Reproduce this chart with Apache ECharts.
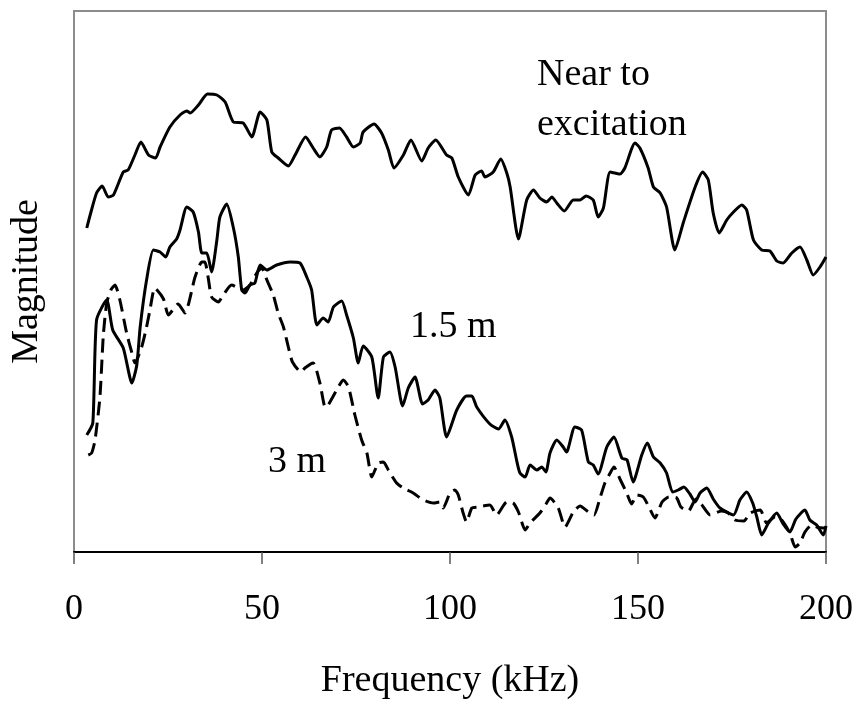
<!DOCTYPE html>
<html>
<head>
<meta charset="utf-8">
<script src="https://cdn.jsdelivr.net/npm/echarts@6/dist/echarts.min.js"></script>
<style>html,body{margin:0;padding:0;background:#fff}#c{width:859px;height:709px}</style>
</head>
<body>
<div id="c"></div>
<script>
// X ticks
var xTicks = [0, 50, 100, 150, 200];

// "Near to excitation" (solid)
var nearFreq = [3.4,4.3,6.0,7.5,9.1,10.5,13.1,14.4,16.2,17.8,19.8,21.7,22.9,25.5,28.2,30.0,30.9,33.1,35.5,38.0,40.2,42.4,45.0,47.3,49.5,51.3,52.6,54.3,57.0,58.8,61.6,63.6,65.4,67.2,68.5,70.6,72.5,74.3,76.1,76.9,79.8,81.8,83.6,85.1,87.6,89.6,92.5,94.2,96.2,99.1,100.5,102.2,104.9,106.7,108.4,109.3,111.5,113.5,115.1,116.0,118.2,120.4,122.2,123.9,125.7,127.1,128.4,130.4,132.8,134.6,136.2,138.1,139.4,140.8,142.6,145.2,146.5,149.2,150.5,152.7,154.1,155.9,157.6,159.8,162.1,165.2,167.2,168.7,170.0,171.6,173.6,175.4,177.6,178.9,180.7,182.9,185.1,186.9,188.6,190.9,193.1,194.9,196.6,198.4,200];
var nearMag  = [324,337,359,366,355,357,380,382,397,410,397,394,405,425,437,441,439,447,458,457,450,430,429,415,440,432,400,394,386,397,415,404,395,405,422,424,415,405,409,420,428,419,402,384,397,412,391,404,412,397,394,375,357,377,381,375,380,393,379,365,313,352,362,354,350,355,349,341,352,352,356,352,335,344,380,378,384,409,404,384,365,359,345,302,330,365,380,372,339,319,332,340,347,342,312,302,301,291,289,299,305,292,277,285,295];

// "1.5 m" (solid)
var m15Freq = [3.4,5.0,6.0,8.7,10.3,13.1,15.4,16.7,17.6,19.3,21.1,22.9,24.4,25.5,27.3,28.2,30.0,31.7,33.1,34.0,35.3,36.6,38.0,38.8,40.6,42.4,43.7,44.6,45.5,46.8,48.1,49.5,51.3,53.9,57.5,60.1,61.9,63.2,64.6,66.3,67.6,69.0,71.2,72.5,74.3,75.6,76.9,79.2,80.9,82.3,84.0,85.4,87.4,88.9,90.7,92.7,94.2,96.0,97.3,99.1,101.8,104.4,105.8,107.1,110.6,112.9,114.6,116.4,117.7,118.6,120.0,121.3,123.1,124.4,125.5,126.6,128.4,130.1,131.0,133.2,135.0,136.8,138.1,139.4,141.7,143.6,145.7,147.1,148.7,151.0,152.5,154.1,155.9,157.6,159.2,160.7,162.2,163.8,165.2,166.5,168.3,170.0,171.8,175.4,177.1,178.9,180.5,181.6,182.9,184.7,186.9,188.6,190.4,192.0,194.4,195.7,197.5,199.3,200];
var m15Mag  = [117,129,232,252,222,204,169,187,225,272,302,300,295,305,313,322,345,340,320,299,299,280,312,335,348,324,295,262,259,267,269,287,282,287,290,289,275,262,227,234,230,245,251,237,214,189,206,195,154,195,200,185,146,164,175,148,152,162,154,115,142,156,156,145,128,123,132,115,92,79,75,87,82,85,80,99,112,105,100,125,122,90,87,78,105,115,94,92,70,97,109,95,89,79,60,62,65,58,50,59,64,53,44,37,52,60,49,35,17,29,39,28,20,33,42,32,27,17,26];

// "3 m" (dashed)
var m3Freq = [3.8,4.7,5.6,6.9,7.8,8.7,9.8,10.9,12.2,14.0,15.4,16.2,18.0,19.3,20.2,21.5,23.8,25.1,27.7,29.5,32.2,34.0,34.8,35.7,36.6,38.4,39.7,41.9,45.0,46.8,48.6,49.9,51.3,53.0,54.3,55.7,57.0,58.1,60.4,61.4,63.6,65.4,66.8,67.6,70.3,71.6,73.0,74.7,76.5,77.9,79.2,80.9,82.3,83.6,85.8,87.6,90.2,92.9,95.6,97.3,98.2,100.0,101.3,102.2,103.5,104.4,105.8,107.5,110.6,112.4,115.1,116.8,118.2,120.0,121.3,123.9,125.7,126.6,128.8,130.6,132.8,134.6,136.8,138.3,139.9,141.2,142.6,143.6,145.2,147.0,148.3,149.7,151.4,152.9,154.5,156.4,158.2,160.3,161.4,163.4,165.4,167.0,169.2,172.2,174.0,175.8,178.2,179.8,182.5,184.2,186.4,188.0,190.4,191.8,193.1,194.4,196.2,197.5,199.3,200];
var m3Mag  = [97,99,112,155,217,249,262,267,252,219,199,189,205,225,242,264,253,237,248,239,275,290,290,274,255,250,257,267,262,267,279,284,272,257,239,225,205,190,180,184,189,169,145,147,165,172,165,137,112,99,75,89,90,82,69,64,59,52,49,50,44,59,62,57,39,30,44,45,47,37,50,49,40,22,29,39,49,54,44,25,40,46,40,37,54,69,79,85,73,59,48,57,55,45,34,50,55,54,45,41,53,47,37,41,39,32,31,39,42,29,35,33,19,5,9,20,27,25,24,25];

function zip(a, b) { return a.map(function (v, i) { return [v, b[i]]; }); }

var serif = "'Liberation Serif', 'Times New Roman', serif";
var chart = echarts.init(document.getElementById('c'), null, { renderer: 'canvas' });
chart.setOption({
  animation: false,
  backgroundColor: '#ffffff',
  grid: { left: 74, right: 33, top: 11, bottom: 157, show: true, borderColor: '#8c8c8c', borderWidth: 2, backgroundColor: 'transparent' },
  xAxis: {
    type: 'value', min: xTicks[0], max: xTicks[xTicks.length - 1], interval: 50,
    name: 'Frequency (kHz)', nameLocation: 'middle', nameGap: 110,
    nameTextStyle: { fontFamily: serif, fontSize: 38, color: '#000' },
    axisLine: { show: true, lineStyle: { color: '#000', width: 2 } },
    axisTick: { show: true, inside: false, length: 12, lineStyle: { color: '#555', width: 1.5 } },
    axisLabel: { fontFamily: serif, fontSize: 36, color: '#000', margin: 40 },
    splitLine: { show: false }
  },
  yAxis: {
    type: 'value', min: 0, max: 541,
    name: 'Magnitude', nameLocation: 'middle', nameGap: 28, nameRotate: 90,
    nameTextStyle: { fontFamily: serif, fontSize: 38, color: '#000' },
    axisLine: { show: false }, axisTick: { show: false }, axisLabel: { show: false },
    splitLine: { show: false }
  },
  series: [
    { name: 'Near to excitation', type: 'line', data: zip(nearFreq, nearMag), showSymbol: false, symbol: 'none', smooth: 0.2,
      lineStyle: { color: '#000', width: 3, type: 'solid', join: 'round' } },
    { name: '1.5 m', type: 'line', data: zip(m15Freq, m15Mag), showSymbol: false, symbol: 'none', smooth: 0.2,
      lineStyle: { color: '#000', width: 3, type: 'solid', join: 'round' } },
    { name: '3 m', type: 'line', data: zip(m3Freq, m3Mag), showSymbol: false, symbol: 'none', smooth: 0.2,
      lineStyle: { color: '#000', width: 3, type: [14, 7], join: 'round' } }
  ],
  graphic: [
    { type: 'text', left: 537, top: 50, style: { text: 'Near to\nexcitation', font: '38px ' + serif, fill: '#000', lineHeight: 50 } },
    { type: 'text', left: 410, top: 302, style: { text: '1.5 m', font: '38px ' + serif, fill: '#000', lineHeight: 50 } },
    { type: 'text', left: 268, top: 437, style: { text: '3 m', font: '38px ' + serif, fill: '#000', lineHeight: 50 } }
  ]
});
</script>
</body>
</html>
